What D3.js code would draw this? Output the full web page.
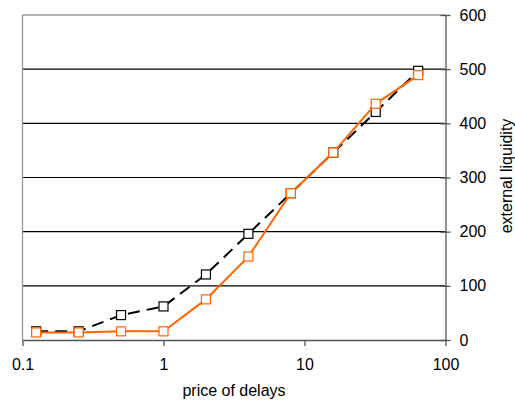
<!DOCTYPE html>
<html><head><meta charset="utf-8">
<script src="https://cdn.jsdelivr.net/npm/d3@7/dist/d3.min.js"></script>
<style>body{margin:0;background:#fff}svg{display:block}text{font-family:Arial,"Liberation Sans",sans-serif}</style>
</head><body><svg id="c" width="515" height="408"></svg>
<script>
const xValues = [0.125, 0.25, 0.5, 1, 2, 4, 8, 16, 32, 64];
const blackSeries = [16, 16, 46, 62, 121, 196, 271, 346, 421, 497];
const orangeSeries = [14, 14, 16, 16, 75, 154, 271, 346, 436, 489];
const xTicks = [0.1, 1, 10, 100];
const xTickLabels = ["0.1", "1", "10", "100"];
const yTicks = [0, 100, 200, 300, 400, 500, 600];
const xTitle = "price of delays";
const yTitle = "external liquidity";

const svg = d3.select("#c");
const L = 22.5, R = 445.5, T = 15, B = 340;
const x = d3.scaleLog().domain([0.1, 100]).range([L, R]);
const y = d3.scaleLinear().domain([0, 600]).range([B, T]);

// gridlines
svg.append("g").selectAll("line").data(yTicks.filter(d => d > 0 && d < 600)).join("line")
  .attr("x1", L).attr("x2", R).attr("y1", d => y(d)).attr("y2", d => y(d))
  .attr("stroke", "#000").attr("stroke-width", 1.2);
// top and left border
svg.append("line").attr("x1", L).attr("x2", R).attr("y1", y(600)).attr("y2", y(600)).attr("stroke", "#999").attr("stroke-width", 1.3);
svg.append("line").attr("x1", L).attr("x2", L).attr("y1", T).attr("y2", B).attr("stroke", "#999").attr("stroke-width", 1.3);

// bottom axis
const xa = svg.append("g").attr("transform", `translate(0,${B})`)
  .call(d3.axisBottom(x).tickValues(xTicks).tickFormat((d, i) => xTickLabels[i]).tickSize(5).tickSizeOuter(0));
xa.select(".domain").attr("stroke", "#555").attr("stroke-width", 1.3);
xa.selectAll(".tick line").attr("stroke", "#555").attr("stroke-width", 1.3).attr("y1", 0).attr("y2", 6);
xa.selectAll(".tick text").attr("font-size", 16).attr("fill", "#000").attr("y", 30).attr("dy", null);

// right axis
const ya = svg.append("g").attr("transform", `translate(${R},0)`)
  .call(d3.axisRight(y).tickValues(yTicks).tickSize(5).tickSizeOuter(0));
ya.select(".domain").attr("stroke", "#555").attr("stroke-width", 1.3);
ya.selectAll(".tick line").attr("stroke", "#555").attr("stroke-width", 1.3).attr("x1", -5).attr("x2", 5);
ya.selectAll(".tick text").attr("font-size", 16).attr("fill", "#000").attr("x", 14);

// titles
svg.append("text").attr("x", 234).attr("y", 396).attr("text-anchor", "middle").attr("font-size", 16).text(xTitle);
svg.append("text").attr("transform", `translate(512,176) rotate(-90)`).attr("text-anchor", "middle").attr("font-size", 16).text(yTitle);

function series(vals, color, dash) {
  const pts = xValues.map((d, i) => [x(d), y(vals[i])]);
  svg.append("path").attr("d", d3.line()(pts)).attr("fill", "none").attr("stroke", color)
    .attr("stroke-width", 2).attr("stroke-dasharray", dash);
  svg.append("g").selectAll("rect").data(pts).join("rect")
    .attr("x", d => d[0] - 4.5).attr("y", d => d[1] - 4.5).attr("width", 9).attr("height", 9)
    .attr("fill", "#fff").attr("stroke", color).attr("stroke-width", 1.2);
}
series(blackSeries, "#000", "12,7");
series(orangeSeries, "#FF6600", null);
</script></body></html>
